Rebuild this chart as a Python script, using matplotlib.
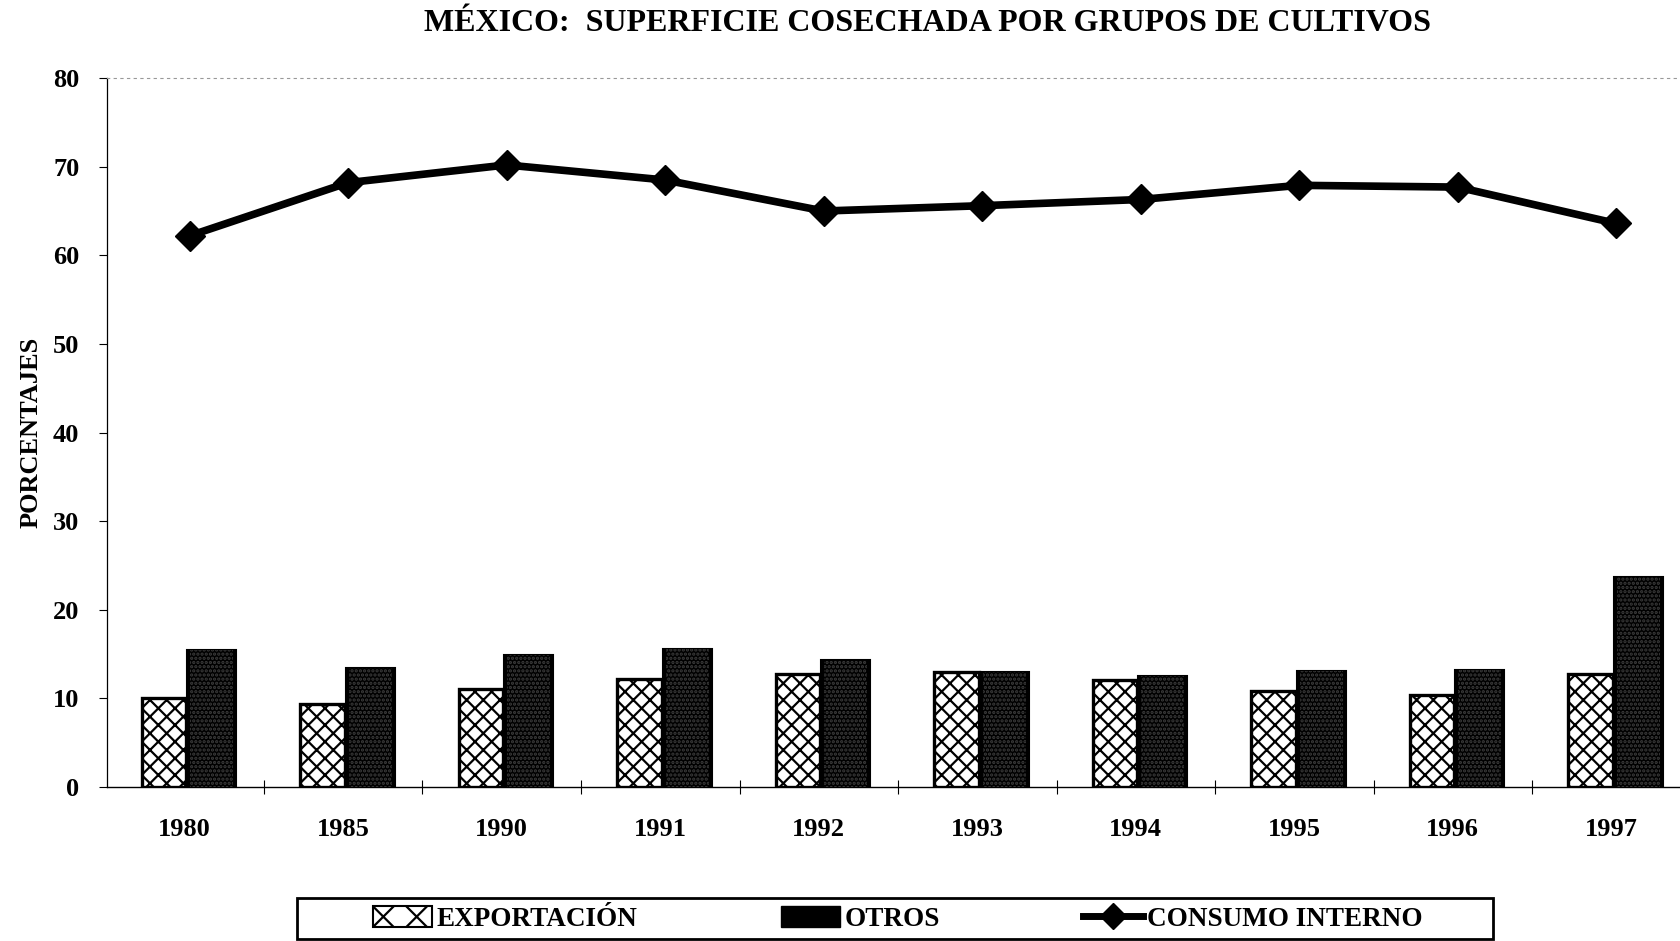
import matplotlib.pyplot as plt
from matplotlib.lines import Line2D
from matplotlib.patches import Patch, Rectangle
import numpy as np

# data
years = ["1980", "1985", "1990", "1991", "1992", "1993", "1994", "1995", "1996", "1997"]
exportacion = [10.0, 9.4, 11.0, 12.2, 12.8, 13.0, 12.1, 10.8, 10.4, 12.7]
otros = [15.5, 13.4, 14.9, 15.6, 14.3, 13.0, 12.5, 13.1, 13.2, 23.7]
consumo_interno = [62.2, 68.2, 70.2, 68.5, 65.0, 65.6, 66.3, 67.9, 67.7, 63.6]

plt.rcParams['font.family'] = ['Liberation Serif', 'DejaVu Serif']
plt.rcParams['font.weight'] = 'bold'
plt.rcParams['hatch.linewidth'] = 1.6

fig = plt.figure(figsize=(16.81, 9.41), dpi=100)
ax = fig.add_axes([0.0637, 0.1637, 0.9363, 0.7533])

x = np.arange(len(years))

ax.bar(x - 0.13, exportacion, width=0.28, facecolor="white", edgecolor="black",
       linewidth=2.4, hatch="xx", zorder=2)
ax.bar(x + 0.17, otros, width=0.31, facecolor="black", edgecolor="black",
       linewidth=1.5, zorder=2)
# faint speckle on the dark bars
ax.bar(x + 0.17, otros, width=0.27, fill=False, edgecolor="#3c3c3c",
       linewidth=0, hatch="....", zorder=3)

ax.plot(x + 0.03, consumo_interno, color="black", linewidth=5.5, marker="D",
        markersize=15, zorder=4)

ax.set_xlim(-0.49, 9.44)
ax.set_ylim(0, 80)
ax.set_yticks(range(0, 81, 10))
ax.set_xticks(x)
ax.set_xticklabels(years)
ax.set_xticks(np.arange(0.5, 9.5, 1), minor=True)
ax.tick_params(axis="x", which="major", length=0, pad=22, labelsize=19)
ax.tick_params(axis="x", which="minor", length=10, direction="inout", width=0.8)
ax.tick_params(axis="y", length=6, width=0.8, pad=14, labelsize=19)

ax.spines["right"].set_visible(False)
ax.spines["top"].set_linestyle((0, (2, 4)))
ax.spines["top"].set_color("#999999")
ax.spines["top"].set_linewidth(0.8)
ax.spines["left"].set_linewidth(0.9)
ax.spines["bottom"].set_linewidth(1.0)

ax.set_ylabel("PORCENTAJES", fontsize=19, fontweight="bold")
ax.yaxis.set_label_coords(-0.041, 0.5)

fig.suptitle("MÉXICO:  SUPERFICIE COSECHADA POR GRUPOS DE CULTIVOS",
             x=0.552, y=0.99, fontsize=23, fontweight="bold")

# legend frame drawn separately so the box can be wider than its entries
fig.patches.append(Rectangle((0.1767, 0.002), 0.7117, 0.0436,
                             transform=fig.transFigure, fill=False,
                             edgecolor="black", linewidth=2.0))

handles = [
    Patch(facecolor="white", edgecolor="black", hatch="x", linewidth=1.5),
    Patch(facecolor="black", edgecolor="black"),
    Line2D([0], [0], color="black", linewidth=5, marker="D", markersize=13),
]
labels = ["EXPORTACIÓN", "OTROS", "CONSUMO INTERNO"]
fig.legend(handles, labels, loc="center", bbox_to_anchor=(0.534, 0.0235),
           ncol=3, fontsize=19.5, frameon=False,
           handlelength=2.2, handleheight=0.8,
           handletextpad=0.15, columnspacing=5.3, borderpad=0.2)

fig.savefig("out.png", dpi=100)
